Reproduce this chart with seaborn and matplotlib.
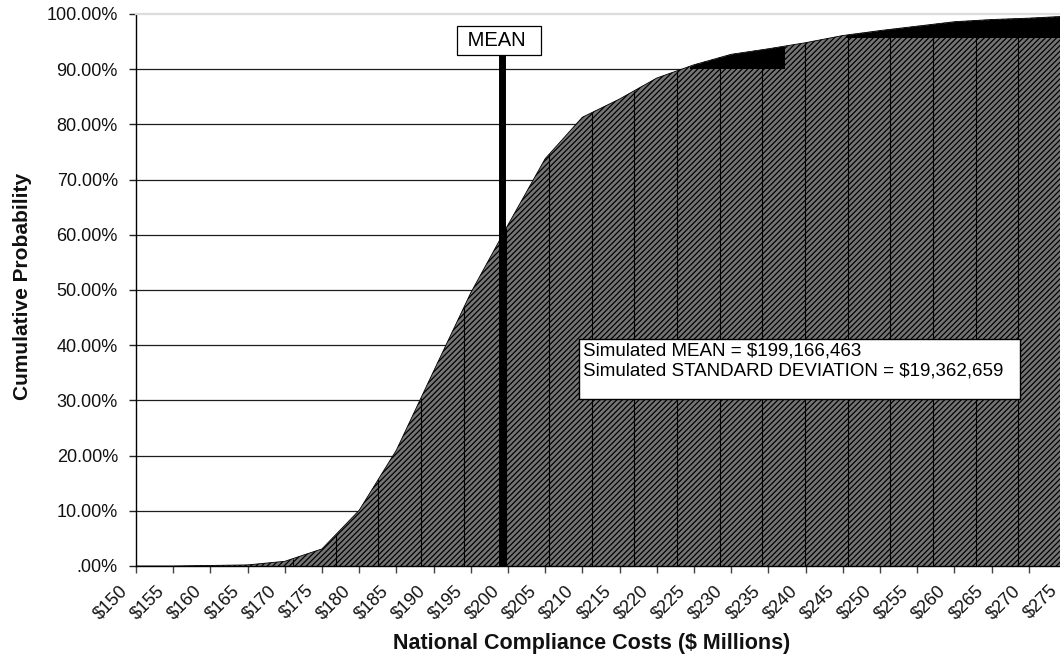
import numpy as np
import pandas as pd
import matplotlib
matplotlib.use("Agg")
import matplotlib.pyplot as plt
import seaborn as sns
from matplotlib.patches import Rectangle
from matplotlib.transforms import ScaledTranslation

# Cumulative probability of national compliance costs ($ millions)
COST_MILLIONS = [150, 155, 160, 165, 170, 175, 180, 185, 190, 195, 200, 205, 210,
                 215, 220, 225, 230, 235, 240, 245, 250, 255, 260, 265, 270, 275]
CUM_PROB_PCT = [0.0, 0.0, 0.1, 0.2, 0.85, 3.1, 10.1, 21.0, 35.3, 49.5, 61.8, 73.8, 81.3,
                84.6, 88.4, 90.8, 92.7, 93.7, 94.8, 96.1, 97.0, 97.8, 98.6, 99.0, 99.25, 99.6]

X_TICKS = [150, 155, 160, 165, 170, 175, 180, 185, 190, 195, 200, 205, 210,
           215, 220, 225, 230, 235, 240, 245, 250, 255, 260, 265, 270, 275]
X_TICK_LABELS = ["$150", "$155", "$160", "$165", "$170", "$175", "$180", "$185", "$190",
                 "$195", "$200", "$205", "$210", "$215", "$220", "$225", "$230", "$235",
                 "$240", "$245", "$250", "$255", "$260", "$265", "$270", "$275"]
Y_TICKS = [0, 10, 20, 30, 40, 50, 60, 70, 80, 90, 100]
Y_TICK_LABELS = [".00%", "10.00%", "20.00%", "30.00%", "40.00%", "50.00%",
                 "60.00%", "70.00%", "80.00%", "90.00%", "100.00%"]

SIM_MEAN = 199166463
SIM_SD = 19362659

sns.set_theme(style="white")
plt.rcParams["font.family"] = ["Liberation Sans", "DejaVu Sans"]
plt.rcParams["hatch.linewidth"] = 0.9

df = pd.DataFrame({"cost": COST_MILLIONS, "cum": CUM_PROB_PCT})

W, H = 1060, 662
fig = plt.figure(figsize=(W / 100, H / 100), dpi=100)
# the plot area runs on past the right edge of the figure
ax = fig.add_axes([136 / W, 1 - 566 / H, 937.4 / W, 552 / H])
ax.set_xlim(150, 276)
ax.set_ylim(0, 100)

# horizontal gridlines behind the shaded area
for v in Y_TICKS[1:-1]:
    ax.axhline(v, color="#1e1e1e", lw=0.9, zorder=1)

# hatched cumulative area
ax.fill_between(df["cost"], 0, df["cum"], facecolor="#747474", edgecolor="black",
                hatch="//////", linewidth=0, zorder=2)

# solid dark bands near the top of the area
for x0, x1, y0 in [(224.5, 237.1, 90.2), (245.4, 300.0, 95.8)]:
    band = ax.fill_between(df["cost"], 0, df["cum"], color="black", lw=0, zorder=3)
    band.set_clip_path(Rectangle((x0, y0), x1 - x0, 110 - y0, transform=ax.transData))

# thin vertical rules across the shaded area
rule_x = np.arange(171.1, 280, 5.735)
ax.vlines(rule_x, 0, np.interp(rule_x, df["cost"], df["cum"]), colors="black",
          lw=0.8, zorder=3.5)

sns.lineplot(data=df, x="cost", y="cum", color="black", lw=0.6, ax=ax, zorder=4)

# mean marker
mean_m = SIM_MEAN / 1e6
ax.vlines(mean_m, 0, 92.57, colors="black", lw=5, zorder=5)
ax.annotate(" MEAN  ", xy=(mean_m, 92.57), xytext=(-2, 3.6), textcoords="offset points",
            ha="center", va="bottom", fontsize=14.5, color="black", zorder=6,
            bbox=dict(boxstyle="square,pad=0.25", fc="white", ec="black", lw=0.9))

# statistics box
fig.patches.append(Rectangle((579 / W, 1 - 399 / H), 441 / W, 60 / H,
                             transform=fig.transFigure, fc="white", ec="black",
                             lw=1.0, zorder=6))
stats = (f"Simulated MEAN = ${SIM_MEAN:,}\n"
         f"Simulated STANDARD DEVIATION = ${SIM_SD:,}")
fig.text(583 / W, 1 - 342 / H, stats, ha="left", va="top", fontsize=13.5,
         linespacing=1.25, color="black", zorder=7)

# axes styling
ax.set_xticks(X_TICKS)
ax.set_xticklabels(X_TICK_LABELS, rotation=45, ha="right", rotation_mode="anchor",
                   fontsize=13, color="#111111")
ax.set_yticks(Y_TICKS)
ax.set_yticklabels(Y_TICK_LABELS, fontsize=13, color="#111111")
ax.tick_params(axis="x", bottom=True, direction="out", length=5, width=1,
               color="#444444", pad=6.5)
ax.tick_params(axis="y", left=True, direction="out", length=5, width=1,
               color="#222222", pad=8)
ax.grid(False)

# cost labels sit a little to the left of their ticks
shift = ScaledTranslation(-17 / 100, 0, fig.dpi_scale_trans)
for lbl in ax.get_xticklabels():
    lbl.set_transform(lbl.get_transform() + shift)

for side in ["left", "bottom"]:
    ax.spines[side].set_color("black")
    ax.spines[side].set_linewidth(1.0)
ax.spines["top"].set_color("#dcdcdc")
ax.spines["top"].set_linewidth(1.6)
ax.spines["right"].set_visible(False)

ax.set_xlabel("National Compliance Costs ($ Millions)", fontsize=15.5,
              fontweight="bold", color="#111111")
ax.xaxis.set_label_coords((592 - 136) / 937.4, -0.1214)
ax.xaxis.label.set_va("top")
ax.set_ylabel("Cumulative Probability", fontsize=15, fontweight="bold",
              color="#111111")
ax.yaxis.set_label_coords((32 - 136) / 937.4, 0.507)

fig.savefig("out.png", dpi=100)
